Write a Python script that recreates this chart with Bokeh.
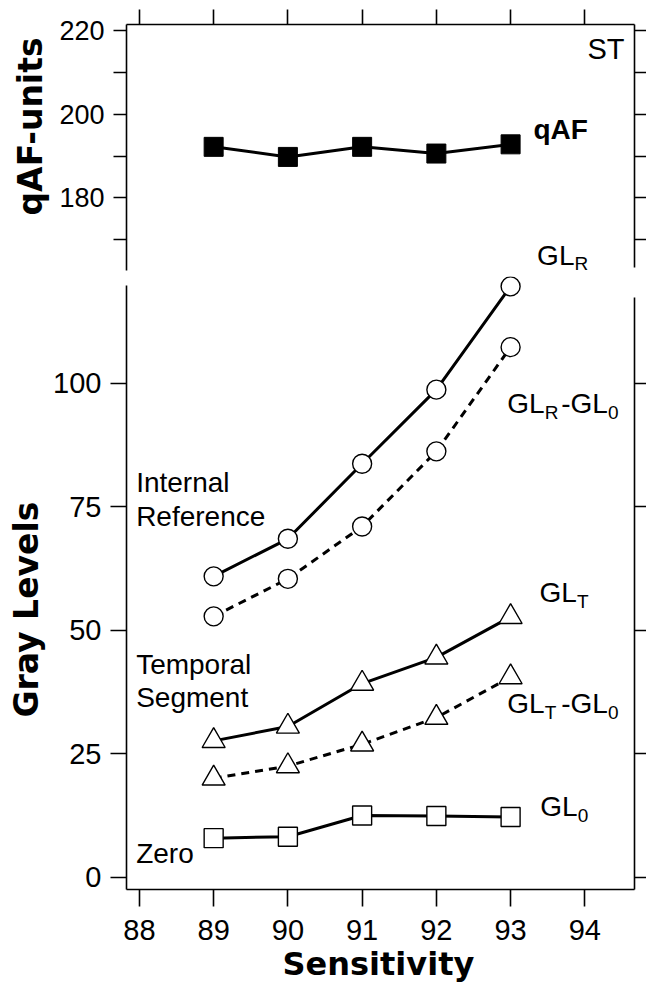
from bokeh.plotting import figure
from bokeh.models import Range1d, LinearAxis, FixedTicker, Label, Title
from bokeh.layouts import column
from bokeh.embed import file_html
from bokeh.resources import INLINE

# ---- data ----
sensitivity = [89, 90, 91, 92, 93]
qaf = [192.2, 189.8, 192.2, 190.6, 192.8]
gl_r = [60.9, 68.5, 83.7, 98.7, 119.6]
gl_r_minus_gl0 = [52.8, 60.4, 71.0, 86.2, 107.3]
gl_t = [27.6, 30.5, 39.2, 44.5, 52.7]
gl_t_minus_gl0 = [20.0, 22.5, 26.9, 32.3, 40.5]
gl_0 = [7.9, 8.2, 12.5, 12.4, 12.2]
x_ticks = [88, 89, 90, 91, 92, 93, 94]
qaf_ticks = [180, 200, 220]
qaf_minor = [170, 190, 210]
gray_ticks = [0, 25, 50, 75, 100]

SANS = "Liberation Sans"
BOLD = "DejaVu Sans"
X0, X1 = 87.826, 94.669


def style_axis(ax, labels=True, tick=13, font="29px", standoff=9):
    ax.axis_line_color = "black"
    ax.axis_line_width = 1.6
    ax.major_tick_line_width = 1.6
    ax.minor_tick_line_width = 1.6
    ax.major_tick_in = 0
    ax.minor_tick_in = 0
    ax.major_tick_out = tick
    ax.minor_tick_out = tick
    ax.major_label_text_font = SANS
    ax.major_label_text_color = "black"
    if labels:
        ax.major_label_text_font_size = font
        ax.major_label_standoff = standoff
    else:
        ax.major_label_text_font_size = "0px"
        ax.major_label_text_color = None
        ax.major_label_standoff = 0


def add_label(p, x, y, text, size="28px", bold=False, align="left", xo=0, yo=0):
    p.add_layout(Label(x=x, y=y, text=text, text_font=SANS, text_font_size=size,
                       text_font_style="bold" if bold else "normal", text_align=align,
                       text_baseline="middle", x_offset=xo, y_offset=yo,
                       text_color="black"))


def add_gl(p, x, y, sub, second_sub=None, sub_drop=9):
    add_label(p, x, y, "GL")
    add_label(p, x, y, sub, size="19px", xo=37.4, yo=-sub_drop)
    if second_sub is not None:
        add_label(p, x, y, "-GL", xo=54)
        add_label(p, x, y, second_sub, size="19px", xo=100.7, yo=-sub_drop)


def side_title(text, size, align, offset, standoff, vertical_align="bottom"):
    return Title(text=text, text_font=BOLD, text_font_style="bold", text_font_size=size,
                 text_color="black", align=align, offset=offset, standoff=standoff,
                 vertical_align=vertical_align)


# ---- top panel ----
top = figure(width=646, height=276, x_range=Range1d(X0, X1), y_range=Range1d(161.26, 221.4),
             output_backend="svg", toolbar_location=None,
             x_axis_location=None, y_axis_location=None,
             min_border_left=123, min_border_right=12, min_border_top=24, min_border_bottom=0)
top.outline_line_color = None
top.grid.visible = False
top.background_fill_color = "white"

ax = LinearAxis(ticker=FixedTicker(ticks=qaf_ticks, minor_ticks=qaf_minor), bounds=(162.7, 221.4))
style_axis(ax, tick=13, font="27px", standoff=9)
top.add_layout(ax, "left")
top.add_layout(side_title("qAF-units", "33px", "left", 61, 14), "left")

ax = LinearAxis(ticker=FixedTicker(ticks=qaf_ticks, minor_ticks=qaf_minor), bounds=(163.4, 221.4))
style_axis(ax, labels=False, tick=12)
top.add_layout(ax, "right")

ax = LinearAxis(ticker=FixedTicker(ticks=x_ticks, minor_ticks=[]))
style_axis(ax, labels=False, tick=15)
top.add_layout(ax, "above")

top.line(sensitivity, qaf, line_color="black", line_width=3)
top.scatter(sensitivity, qaf, marker="square", size=19, fill_color="black", line_color="black")

add_label(top, 94.535, 215.5, "ST", size="29px", align="right")
add_label(top, 93.307, 196.3, "qAF", size="28px", bold=True)
add_gl(top, 93.357, 166.3, "R", sub_drop=8)

# ---- bottom panel ----
bot = figure(width=646, height=712, x_range=Range1d(X0, X1), y_range=Range1d(-2.49, 121.6),
             output_backend="svg", toolbar_location=None,
             x_axis_location=None, y_axis_location=None,
             min_border_left=123, min_border_right=12, min_border_top=0, min_border_bottom=99)
bot.outline_line_color = None
bot.grid.visible = False
bot.background_fill_color = "white"

ax = LinearAxis(ticker=FixedTicker(ticks=gray_ticks, minor_ticks=[]), bounds=(-2.49, 119.78))
style_axis(ax, tick=16, font="29px", standoff=9)
bot.add_layout(ax, "left")
bot.add_layout(side_title("Gray Levels", "33px", "left", 172, 9), "left")

ax = LinearAxis(ticker=FixedTicker(ticks=gray_ticks, minor_ticks=[]), bounds=(-2.49, 117.35))
style_axis(ax, labels=False, tick=12)
bot.add_layout(ax, "right")

ax = LinearAxis(ticker=FixedTicker(ticks=x_ticks, minor_ticks=[]))
style_axis(ax, tick=17, font="29px", standoff=13)
bot.add_layout(ax, "below")
bot.add_layout(side_title("Sensitivity", "32px", "left", 156, 5, vertical_align="top"), "below")

DASH = "8 6"
bot.line(sensitivity, gl_r, line_color="black", line_width=3)
bot.line(sensitivity, gl_r_minus_gl0, line_color="black", line_width=3, line_dash=DASH)
bot.line(sensitivity, gl_t, line_color="black", line_width=3)
bot.line(sensitivity, gl_t_minus_gl0, line_color="black", line_width=3, line_dash=DASH)
bot.line(sensitivity, gl_0, line_color="black", line_width=3)

for ys in (gl_r, gl_r_minus_gl0):
    bot.scatter(sensitivity, ys, marker="circle", size=19, fill_color="white",
                line_color="black", line_width=1.4)
for ys in (gl_t, gl_t_minus_gl0):
    bot.scatter(sensitivity, ys, marker="triangle", size=23, fill_color="white",
                line_color="black", line_width=1.4)
bot.scatter(sensitivity, gl_0, marker="square", size=19, fill_color="white",
            line_color="black", line_width=1.4)

add_gl(bot, 92.955, 95.9, "R", "0")
add_gl(bot, 93.39, 57.6, "T")
add_gl(bot, 92.955, 35.2, "T", "0")
add_gl(bot, 93.40, 14.3, "0")

add_label(bot, 87.956, 79.9, "Internal")
add_label(bot, 87.956, 73.1, "Reference")
add_label(bot, 87.956, 43.1, "Temporal")
add_label(bot, 87.956, 36.4, "Segment")
add_label(bot, 87.956, 4.8, "Zero")

layout = column(top, bot, spacing=0)
open("out.html", "w").write(file_html(layout, INLINE))
